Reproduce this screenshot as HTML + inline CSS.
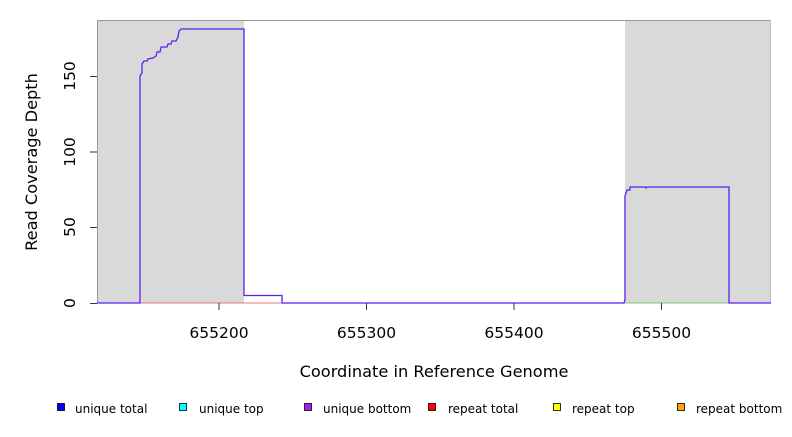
<!DOCTYPE html>
<html><head><style>body{margin:0;background:#fff}</style></head><body>
<svg width="792" height="432" xmlns="http://www.w3.org/2000/svg" font-family="DejaVu Sans, Liberation Sans, sans-serif">
<rect x="97" y="20" width="147" height="283" fill="#d9d9d9"/>
<rect x="625" y="20" width="146" height="283" fill="#d9d9d9"/>
<line x1="97" y1="20.5" x2="771" y2="20.5" stroke="#999"/>
<line x1="97.5" y1="20" x2="97.5" y2="303" stroke="#999"/>
<line x1="770.5" y1="20" x2="770.5" y2="303" stroke="#bbb"/>
<line x1="97" y1="303" x2="771" y2="303" stroke="#e08080"/>
<line x1="625" y1="303" x2="729" y2="303" stroke="#80c080"/>
<polyline fill="none" stroke="#5b1ff0" stroke-width="1.3" points="97,303 140,303 140,76 142,73 142,64 144,61 147,61 148,59 153,58 156,56 157,52 160,52 161,47 167,47 168,44 171,44 172,41 176,41 178,37 179,31 181,29 244,29 244,295.5 282,295.5 282,303 624,303 625,300 625,196 627,190 630,190 630,187 645,187 646,188 647,187 729,187 729,303 771,303"/>
<g stroke="#333">
<line x1="90" y1="303.5" x2="97" y2="303.5"/><line x1="90" y1="227.5" x2="97" y2="227.5"/><line x1="90" y1="152" x2="97" y2="152"/><line x1="90" y1="76.5" x2="97" y2="76.5"/>
<line x1="219" y1="303" x2="219" y2="310"/><line x1="366.5" y1="303" x2="366.5" y2="310"/><line x1="514" y1="303" x2="514" y2="310"/><line x1="661.5" y1="303" x2="661.5" y2="310"/>
</g>
<g font-size="15.5" fill="#000" text-anchor="middle">
<text transform="translate(75,303) rotate(-90)">0</text>
<text transform="translate(75,227) rotate(-90)">50</text>
<text transform="translate(75,152) rotate(-90)">100</text>
<text transform="translate(75,76) rotate(-90)">150</text>
<text x="219" y="338">655200</text>
<text x="366.5" y="338">655300</text>
<text x="514" y="338">655400</text>
<text x="661.5" y="338">655500</text>
</g>
<g font-size="16.2" fill="#000" text-anchor="middle">
<text x="434" y="377">Coordinate in Reference Genome</text>
<text transform="translate(37,162) rotate(-90)">Read Coverage Depth</text>
</g>
<g font-size="12" fill="#000" stroke="#000" stroke-width="0.8">
<rect x="57.5" y="403.5" width="7" height="7" fill="#0000ff"/>
<rect x="179.5" y="403.5" width="7" height="7" fill="#00ffff"/>
<rect x="304.5" y="403.5" width="7" height="7" fill="#a020f0"/>
<rect x="428.5" y="403.5" width="7" height="7" fill="#ff0000"/>
<rect x="553.5" y="403.5" width="7" height="7" fill="#ffff00"/>
<rect x="677.5" y="403.5" width="7" height="7" fill="#ffa500"/>
</g>
<g font-size="12" fill="#000">
<text x="75" y="413">unique total</text>
<text x="199" y="413">unique top</text>
<text x="323" y="413">unique bottom</text>
<text x="448" y="413">repeat total</text>
<text x="572" y="413">repeat top</text>
<text x="696" y="413">repeat bottom</text>
</g>
</svg>
</body></html>
